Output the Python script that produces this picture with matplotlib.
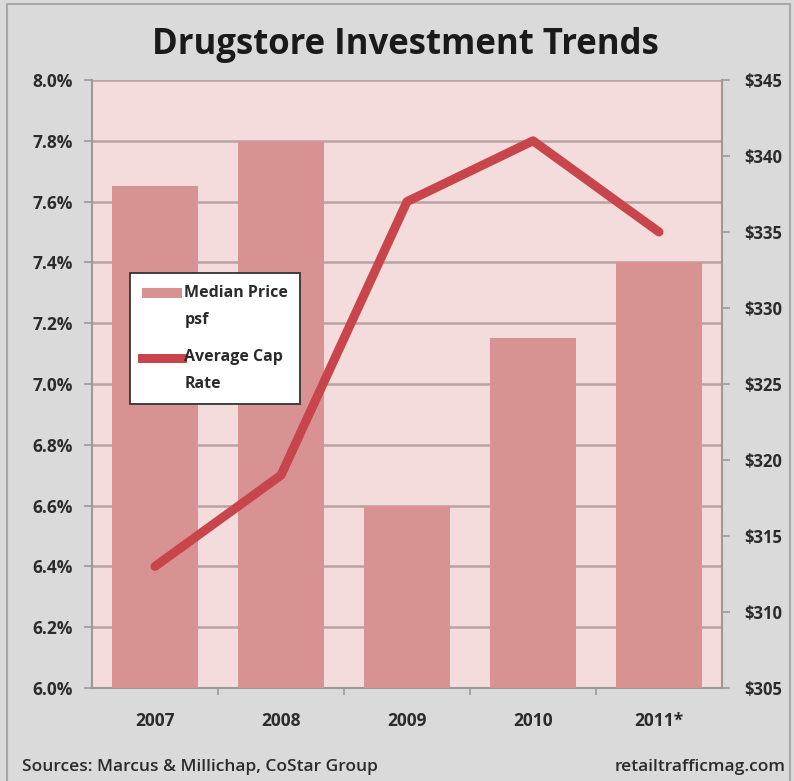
import matplotlib
matplotlib.use("Agg")
import matplotlib.pyplot as plt
from matplotlib.patches import Rectangle, Patch
from matplotlib.lines import Line2D
from matplotlib.ticker import FixedLocator, FuncFormatter

# Data
years = ["2007", "2008", "2009", "2010", "2011*"]
median_price_psf = [338, 341, 317, 328, 333]        # $ per sq ft (right axis)
avg_cap_rate = [6.4, 6.7, 7.6, 7.8, 7.5]            # percent (left axis)
cap_ticks = [6.0, 6.2, 6.4, 6.6, 6.8, 7.0, 7.2, 7.4, 7.6, 7.8, 8.0]
price_ticks = [305, 310, 315, 320, 325, 330, 335, 340, 345]

OUTER_BG = "#dadada"
PLOT_BG = "#f5dcdc"
BAR_C = "#d89292"
LINE_C = "#c8464b"
GRID_C = "#b9a2a2"
SPINE_C = "#9a9a9a"
TEXT_C = "#2b2b2b"
FONT = ["Open Sans", "DejaVu Sans"]

fig = plt.figure(figsize=(7.94, 7.81), dpi=100, facecolor=OUTER_BG)
fig.patches.append(Rectangle((7 / 794, -0.01), (790 - 7) / 794, 1 - 4 / 781 + 0.01,
                             transform=fig.transFigure, fill=False,
                             edgecolor="#a8a8a8", linewidth=1.5))

rect = [92 / 794, 1 - 688 / 781, (722 - 92) / 794, (688 - 80) / 781]

# Background axes: cap-rate scale, gridlines and left labels
ax = fig.add_axes(rect)
ax.set_facecolor(PLOT_BG)
x = list(range(len(years)))
ax.set_xlim(-0.5, len(years) - 0.5)
ax.set_ylim(6.0, 8.0)
ax.yaxis.set_major_locator(FixedLocator(cap_ticks))
ax.yaxis.set_major_formatter(FuncFormatter(lambda v, p: f"{v:.1f}%"))
ax.grid(axis="y", color=GRID_C, linewidth=1.8)
ax.set_axisbelow(True)
ax.set_xticks([i - 0.5 for i in range(1, len(years))], minor=False)
ax.set_xticklabels([])
ax.set_xticks(x, minor=True)
ax.set_xticklabels(years, minor=True)
ax.tick_params(axis="x", which="major", direction="out", length=5, color=SPINE_C, width=1.2)
ax.tick_params(axis="x", which="minor", length=0, pad=17, labelsize=12.5, labelcolor=TEXT_C)
ax.tick_params(axis="y", direction="out", length=6, color=SPINE_C, width=1.2,
               pad=8, labelsize=12.5, labelcolor=TEXT_C)
for lab in ax.get_xticklabels(minor=True) + ax.get_yticklabels():
    lab.set_fontfamily(FONT)
    lab.set_fontweight("bold")
for s in ["top", "right"]:
    ax.spines[s].set_visible(False)
for s in ["left", "bottom"]:
    ax.spines[s].set_color(SPINE_C)
    ax.spines[s].set_linewidth(1.5)

# Bars on the price scale
axb = ax.twinx()
axb.set_ylim(305, 345)
axb.yaxis.set_major_locator(FixedLocator(price_ticks))
axb.yaxis.set_major_formatter(FuncFormatter(lambda v, p: f"${v:.0f}"))
axb.bar(x, median_price_psf, width=0.69, color=BAR_C, zorder=2)
axb.tick_params(axis="y", direction="out", length=6, color=SPINE_C, width=1.2,
                pad=10, labelsize=12, labelcolor=TEXT_C)
for lab in axb.get_yticklabels():
    lab.set_fontfamily(FONT)
    lab.set_fontweight("bold")
for s in ["top", "left", "bottom"]:
    axb.spines[s].set_visible(False)
axb.spines["right"].set_color(SPINE_C)
axb.spines["right"].set_linewidth(1.5)

# Cap-rate line on top
axl = ax.twinx()
axl.set_ylim(6.0, 8.0)
axl.set_yticks([])
for s in axl.spines.values():
    s.set_visible(False)
axl.plot(x, avg_cap_rate, color=LINE_C, linewidth=6.5, solid_joinstyle="round",
         solid_capstyle="round", zorder=3)

handles = [Patch(facecolor=BAR_C, edgecolor="none"),
           Line2D([], [], color=LINE_C, linewidth=6.5)]
leg = axl.legend(handles, ["Median Price\npsf", "Average Cap\nRate"],
                 loc="upper left", bbox_to_anchor=((130 - 92) / 630, (688 - 273) / 608),
                 borderaxespad=0, frameon=True, fancybox=False, framealpha=1,
                 edgecolor="#333333", handlelength=2.5, handleheight=0.55,
                 labelspacing=1.35, prop={"family": FONT, "weight": "bold", "size": 11.5},
                 borderpad=0.75, handletextpad=0.15)
leg.get_frame().set_linewidth(1.3)
for t in leg.get_texts():
    t.set_color(TEXT_C)
    t.set_linespacing(1.9)

# Raise the legend keys so they sit beside the first line of each label
key_shift = 10  # points
patch_key, line_key = leg.legend_handles
patch_key.set_y(patch_key.get_y() + key_shift)
line_key.set_ydata([y + key_shift for y in line_key.get_ydata()])

fig.text(405 / 794, 1 - 45 / 781, "Drugstore Investment Trends", ha="center", va="center",
         fontsize=25, fontweight="bold", family=FONT, color="#1a1a1a")
fig.text(22 / 794, 1 - 767 / 781, "Sources: Marcus & Millichap, CoStar Group", ha="left",
         va="center", fontsize=12.5, family=FONT, color=TEXT_C, fontweight="semibold")
fig.text(786 / 794, 1 - 767 / 781, "retailtrafficmag.com", ha="right",
         va="center", fontsize=12.5, family=FONT, color=TEXT_C, fontweight="semibold")

fig.savefig("out.png", dpi=100, facecolor=OUTER_BG)
